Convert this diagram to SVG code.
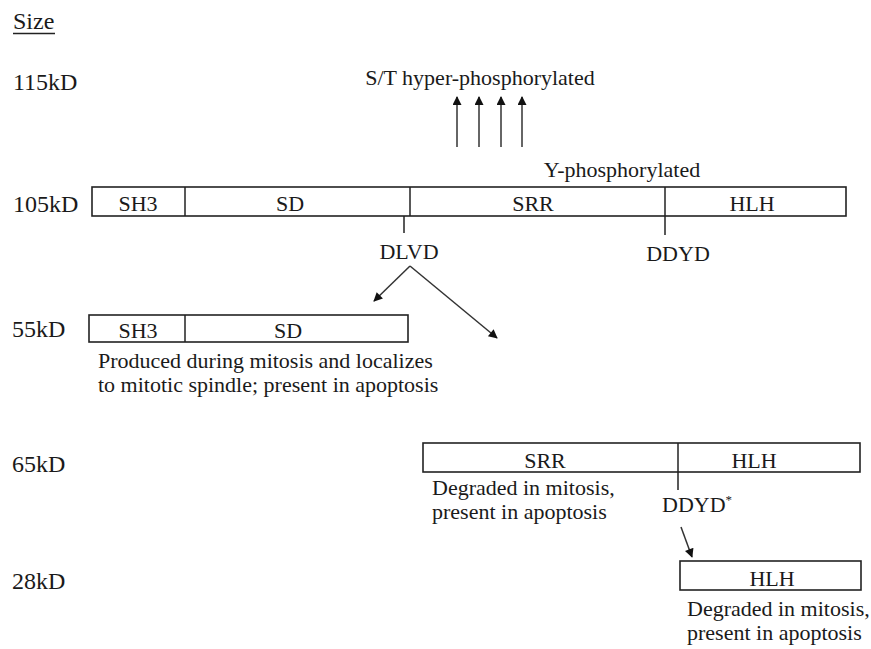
<svg xmlns="http://www.w3.org/2000/svg" width="871" height="649" viewBox="0 0 871 649">
<style>
text{font-family:"Liberation Serif","Times New Roman",serif;fill:#1a1a1a;font-size:22px}
.lbl{font-size:24px}
.c{text-anchor:middle}
.box{fill:#fff;stroke:#222;stroke-width:1.6}
.ln{stroke:#222;stroke-width:1.5;fill:none}
.ar{stroke:#333;stroke-width:1.5;fill:none;marker-end:url(#ah)}
</style>
<defs>
<marker id="ah" viewBox="0 0 10 10" refX="9" refY="5" markerWidth="11" markerHeight="9" markerUnits="userSpaceOnUse" orient="auto"><path d="M0,0 L10,5 L0,10 z" fill="#111"/></marker>
</defs>
<rect width="871" height="649" fill="#fff"/>
<g id="size-labels">
<text class="lbl" x="13" y="29">Size</text>
<line x1="13" y1="33.5" x2="55" y2="33.5" stroke="#222" stroke-width="1.5"/>
<text class="lbl" x="13" y="90">115kD</text>
<text class="lbl" x="13" y="212">105kD</text>
<text class="lbl" x="12" y="337">55kD</text>
<text class="lbl" x="12" y="472">65kD</text>
<text class="lbl" x="12" y="589">28kD</text>
</g>
<g id="st-phospho">
<text class="c" x="480" y="85">S/T hyper-phosphorylated</text>
</g>
<g id="y-phospho">
<text class="c" x="622" y="177">Y-phosphorylated</text>
</g>
<g id="full-105">
<rect class="box" x="92" y="187" width="754" height="29"/>
<line class="ln" x1="185" y1="187" x2="185" y2="216"/>
<line class="ln" x1="410" y1="187" x2="410" y2="216"/>
<line class="ln" x1="665" y1="187" x2="665" y2="216"/>
<text class="c" x="138" y="211">SH3</text>
<text class="c" x="290" y="211">SD</text>
<text class="c" x="533" y="211">SRR</text>
<text class="c" x="752" y="211">HLH</text>
</g>
<g id="dlvd">
<line class="ln" x1="404" y1="216" x2="404" y2="233"/>
<text class="c" x="409" y="259">DLVD</text>
</g>
<g id="ddyd">
<line class="ln" x1="665" y1="216" x2="665" y2="235"/>
<text class="c" x="678" y="261">DDYD</text>
</g>
<g id="frag-55">
<rect class="box" x="89" y="315" width="319" height="27"/>
<line class="ln" x1="185" y1="315" x2="185" y2="342"/>
<text class="c" x="138" y="338">SH3</text>
<text class="c" x="288" y="338">SD</text>
<text x="98" y="368">Produced during mitosis and localizes</text>
<text x="98" y="392">to mitotic spindle; present in apoptosis</text>
</g>
<g id="frag-65">
<rect class="box" x="423" y="443" width="437" height="29"/>
<line class="ln" x1="678" y1="443" x2="678" y2="472"/>
<text class="c" x="545" y="468">SRR</text>
<text class="c" x="754" y="468">HLH</text>
<text x="432" y="495">Degraded in mitosis,</text>
<text x="432" y="519">present in apoptosis</text>
</g>
<g id="ddyd-star">
<line class="ln" x1="678" y1="472" x2="678" y2="490"/>
<text x="662" y="512">DDYD<tspan font-size="13" dy="-8">*</tspan></text>
</g>
<g id="frag-28">
<rect class="box" x="680" y="561" width="181" height="29"/>
<text class="c" x="772" y="586">HLH</text>
<text x="687" y="616">Degraded in mitosis,</text>
<text x="687" y="640">present in apoptosis</text>
</g>
<g id="connectors">
<line class="ar" x1="457" y1="147" x2="457" y2="97"/>
<line class="ar" x1="479" y1="147" x2="479" y2="97"/>
<line class="ar" x1="501" y1="147" x2="501" y2="97"/>
<line class="ar" x1="522" y1="147" x2="522" y2="97"/>
<line class="ar" x1="410" y1="266" x2="374" y2="301"/>
<line class="ar" x1="410" y1="266" x2="497" y2="338"/>
<line class="ar" x1="681" y1="527" x2="692" y2="557"/>
</g>
</svg>
